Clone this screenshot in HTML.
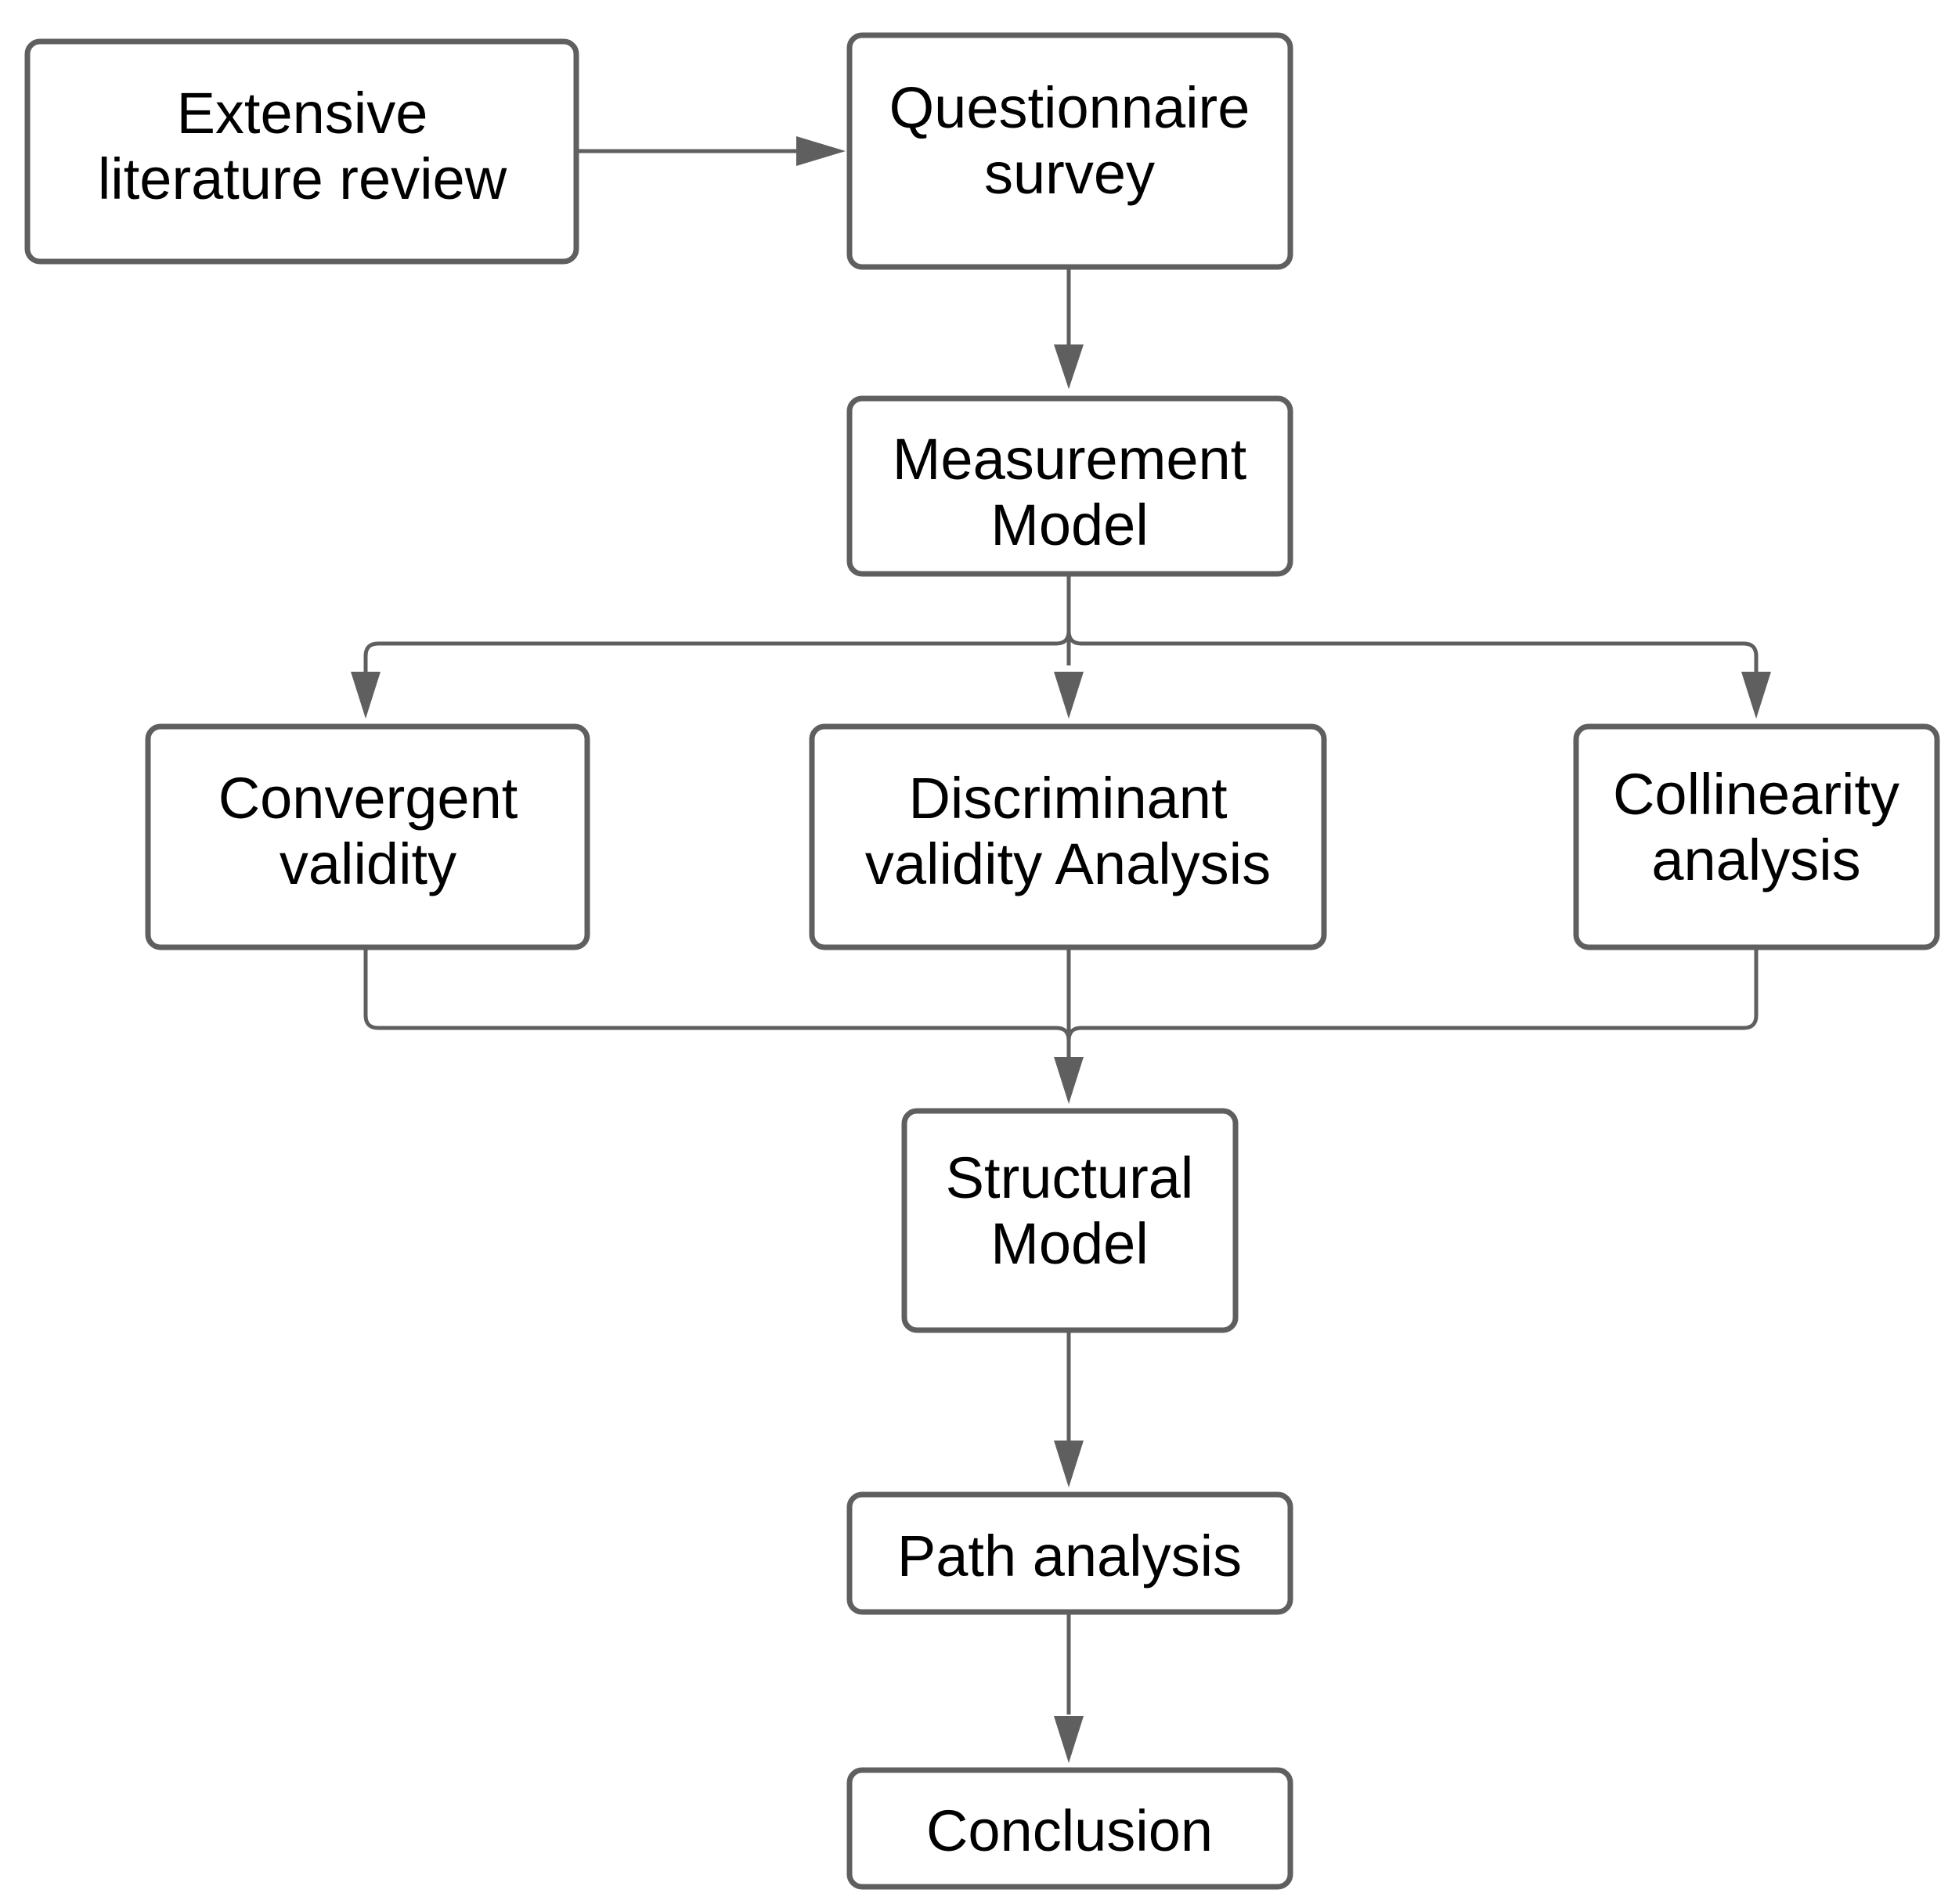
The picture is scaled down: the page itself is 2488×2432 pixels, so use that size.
<!DOCTYPE html>
<html><head><style>html,body{margin:0;padding:0;background:#fff}</style></head><body>
<svg width="2488" height="2427" viewBox="0 0 2488 2427" xmlns="http://www.w3.org/2000/svg">
<defs>
<marker id="a" markerWidth="10" markerHeight="10" refX="10" refY="5" orient="auto" markerUnits="userSpaceOnUse" viewBox="0 0 10 10" >
</marker>
</defs>
<g fill="none" stroke="#5f5f5f" stroke-width="5">
<path d="M736 193 H1020"/>
<path d="M1365 341 V440"/>
<path d="M1365 733 V850"/>
<path d="M1365 806 Q1365 822 1349 822 H483 Q467 822 467 838 V860"/>
<path d="M1365 806 Q1365 822 1381 822 H2227 Q2243 822 2243 838 V860"/>
<path d="M1365 1210 V1350"/>
<path d="M467 1210 V1297 Q467 1313 483 1313 H1349 Q1365 1313 1365 1329"/>
<path d="M2243 1210 V1297 Q2243 1313 2227 1313 H1381 Q1365 1313 1365 1329"/>
<path d="M1365 1699 V1840"/>
<path d="M1365 2059 V2190"/>
</g>
<g fill="#5f5f5f">
<polygon points="1017,174 1080,193 1017,212"/>
<polygon points="1346,440 1384,440 1365,497"/>
<polygon points="1346,858 1384,858 1365,918"/>
<polygon points="448,858 486,858 467,918"/>
<polygon points="2224,858 2262,858 2243,918"/>
<polygon points="1346,1350 1384,1350 1365,1410"/>
<polygon points="1346,1840 1384,1840 1365,1900"/>
<polygon points="1346,2192 1384,2192 1365,2252"/>
</g>
<g fill="#fff" stroke="#5f5f5f" stroke-width="7">
<rect x="35" y="53" width="701" height="281" rx="16"/>
<rect x="1085" y="45" width="563" height="296" rx="16"/>
<rect x="1085" y="509" width="563" height="224" rx="16"/>
<rect x="189" y="928" width="561" height="282" rx="16"/>
<rect x="1037" y="928" width="654" height="282" rx="16"/>
<rect x="2013" y="928" width="461" height="282" rx="16"/>
<rect x="1155" y="1419" width="423" height="280" rx="16"/>
<rect x="1085" y="1909" width="563" height="150" rx="16"/>
<rect x="1085" y="2261" width="563" height="149" rx="16"/>
</g>
<g font-family="Liberation Sans, sans-serif" font-size="74" fill="#000" text-anchor="middle">
<text x="386" y="170">Extensive</text><text x="386" y="254">literature review</text>
<text x="1366" y="163">Questionnaire</text><text x="1366" y="247">survey</text>
<text x="1366" y="612">Measurement</text><text x="1366" y="696">Model</text>
<text x="470" y="1045">Convergent</text><text x="470" y="1129">validity</text>
<text x="1364" y="1045">Discriminant</text><text x="1364" y="1129">validity Analysis</text>
<text x="2243" y="1040">Collinearity</text><text x="2243" y="1124">analysis</text>
<text x="1366" y="1530">Structural</text><text x="1366" y="1614">Model</text>
<text x="1366" y="2013">Path analysis</text>
<text x="1366" y="2364">Conclusion</text>
</g>
</svg>
</body></html>
